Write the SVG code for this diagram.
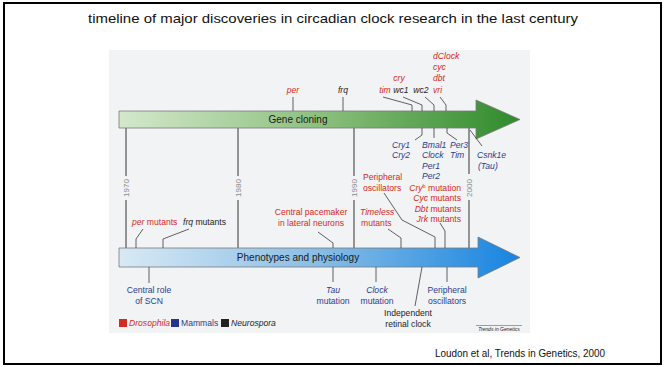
<svg xmlns="http://www.w3.org/2000/svg" width="666" height="367" viewBox="0 0 666 367">
<defs>
<linearGradient id="gGreen" x1="0" y1="0" x2="1" y2="0">
<stop offset="0" stop-color="#d4e8cc"/>
<stop offset="0.5" stop-color="#8cc07e"/>
<stop offset="1" stop-color="#2f8a2a"/>
</linearGradient>
<linearGradient id="gBlue" x1="0" y1="0" x2="1" y2="0">
<stop offset="0" stop-color="#d8e9f4"/>
<stop offset="0.5" stop-color="#88bde6"/>
<stop offset="1" stop-color="#1684e0"/>
</linearGradient>
<style>
text{font-family:"Liberation Sans",Arial,sans-serif}
.it{font-style:italic}
.s9{font-size:8.6px}
.r{fill:#d42a22}
.k{fill:#222}
.b{fill:#2b3d8f}
.yr{font-size:8px;fill:#8a8a8a}
.ln{stroke:#3a3a3a;stroke-width:0.8;fill:none}
.yl{stroke:#555;stroke-width:1.2;fill:none}
.bar{stroke:#7a7a7a;stroke-width:0.8}
</style>
</defs>
<rect x="0" y="0" width="666" height="367" fill="#ffffff"/>
<rect x="4" y="3" width="657" height="361" fill="none" stroke="#000" stroke-width="2"/>
<text x="333" y="23" text-anchor="middle" font-family="'Open Sans','Liberation Sans',sans-serif" font-size="13" fill="#111" textLength="490" lengthAdjust="spacingAndGlyphs">timeline of major discoveries in circadian clock research in the last century</text>
<rect x="109" y="50" width="421" height="283" fill="#f2f3f5"/>

<g id="years">
<path class="yl" d="M126,128V176M126,200V248M238,128V176M238,200V248M354,128V176M354,200V248M469,128V174M469,200V248"/>
<text class="yr" transform="translate(129,188) rotate(-90)" text-anchor="middle">1970</text>
<text class="yr" transform="translate(241,188) rotate(-90)" text-anchor="middle">1980</text>
<text class="yr" transform="translate(357,188) rotate(-90)" text-anchor="middle">1990</text>
<text class="yr" transform="translate(472,188) rotate(-90)" text-anchor="middle">2000</text>
</g>

<g id="gene-cloning">
<path class="bar" d="M119,111H476V100L520,119.5L476,139V128H119Z" fill="url(#gGreen)"/>
<text x="298" y="123" text-anchor="middle" font-size="10" fill="#1a1a1a">Gene cloning</text>
</g>

<g id="phenotypes">
<path class="bar" d="M119,248H478V237L520,257.5L478,278V267H119Z" fill="url(#gBlue)"/>
<text x="298" y="261" text-anchor="middle" font-size="10" fill="#1a1a1a">Phenotypes and physiology</text>
</g>

<g id="connectors">
<path class="ln" d="M293,97V111M343,97V111"/>
<path class="ln" d="M383,97L412,105V111M403,97L422,105V111M425,97L434,105V111M440,97L446,105V111"/>
<path class="ln" d="M422,128V135L415,140M434,128V138M447,128V133L457,140M470,130L482,146"/>
<path class="ln" d="M143,229L136,239V248M189,229L163,239V248"/>
<path class="ln" d="M318,232L333,243V248M388,229L401,238V248M384,193L402,220L435,237V248M440,223L445,231V248"/>
<path class="ln" d="M149,267V283M333,267V282M376,267V282M422,267L415,306M447,267V282"/>
</g>

<g id="top-labels" class="it s9">
<text class="r" x="293" y="93" text-anchor="middle">per</text>
<text class="k" x="343" y="93" text-anchor="middle">frq</text>
<text class="r" x="385" y="93" text-anchor="middle">tim</text>
<text class="k" x="401" y="93" text-anchor="middle">wc1</text>
<text class="k" x="421" y="93" text-anchor="middle">wc2</text>
<text class="r" x="399" y="81" text-anchor="middle">cry</text>
<text class="r" x="433" y="59">dClock</text>
<text class="r" x="433" y="70">cyc</text>
<text class="r" x="433" y="81">dbt</text>
<text class="r" x="433" y="93">vri</text>
</g>

<g id="gene-products" class="it s9 b">
<text x="392" y="148">Cry1</text>
<text x="392" y="158">Cry2</text>
<text x="422" y="148">Bmal1</text>
<text x="422" y="158">Clock</text>
<text x="422" y="169">Per1</text>
<text x="422" y="179">Per2</text>
<text x="450" y="148">Per3</text>
<text x="450" y="158">Tim</text>
<text x="477" y="158">Csnk1e</text>
<text x="478" y="169">(Tau)</text>
</g>

<g id="red-phenotypes" class="s9 r">
<text x="363" y="180">Peripheral</text>
<text x="363" y="191">oscillators</text>
<text x="461" y="191" text-anchor="end"><tspan class="it">Cry</tspan><tspan font-size="5.5" dy="-3">b</tspan><tspan dy="3"> mutation</tspan></text>
<text x="461" y="201" text-anchor="end"><tspan class="it">Cyc</tspan> mutants</text>
<text x="461" y="212" text-anchor="end"><tspan class="it">Dbt</tspan> mutants</text>
<text x="461" y="222" text-anchor="end"><tspan class="it">Jrk</tspan> mutants</text>
<text x="311" y="215" text-anchor="middle">Central pacemaker</text>
<text x="311" y="226" text-anchor="middle">in lateral neurons</text>
<text x="360" y="215" class="it">Timeless</text>
<text x="361" y="226">mutants</text>
<text x="132" y="225"><tspan class="it">per</tspan> mutants</text>
<text x="183" y="225" class="k"><tspan class="it">frq</tspan> mutants</text>
</g>

<g id="bottom-labels" class="s9 b">
<text x="149" y="293" text-anchor="middle">Central role</text>
<text x="149" y="304" text-anchor="middle">of SCN</text>
<text x="333" y="293" text-anchor="middle" class="it">Tau</text>
<text x="333" y="304" text-anchor="middle">mutation</text>
<text x="377" y="293" text-anchor="middle" class="it">Clock</text>
<text x="377" y="304" text-anchor="middle">mutation</text>
<text x="447" y="293" text-anchor="middle">Peripheral</text>
<text x="447" y="304" text-anchor="middle">oscillators</text>
<text x="408" y="316" text-anchor="middle" class="k">Independent</text>
<text x="408" y="327" text-anchor="middle" class="k">retinal clock</text>
</g>

<g id="legend" class="s9">
<rect x="119" y="319" width="8" height="8" fill="#d42a22"/>
<text x="129" y="326" class="r it">Drosophila</text>
<rect x="171" y="319" width="8" height="8" fill="#23348a"/>
<text x="181" y="326" class="b">Mammals</text>
<rect x="221" y="319" width="8" height="8" fill="#222"/>
<text x="231" y="326" class="k it">Neurospora</text>
</g>

<g id="source">
<path d="M476,325.5H522" stroke="#444" stroke-width="0.5"/>
<text x="499" y="331" text-anchor="middle" font-size="5" class="it k">Trends in Genetics</text>
<text x="435" y="357" font-family="'Open Sans','Liberation Sans',sans-serif" font-size="10" fill="#111" textLength="170" lengthAdjust="spacingAndGlyphs">Loudon et al, Trends in Genetics,  2000</text>
</g>
</svg>
